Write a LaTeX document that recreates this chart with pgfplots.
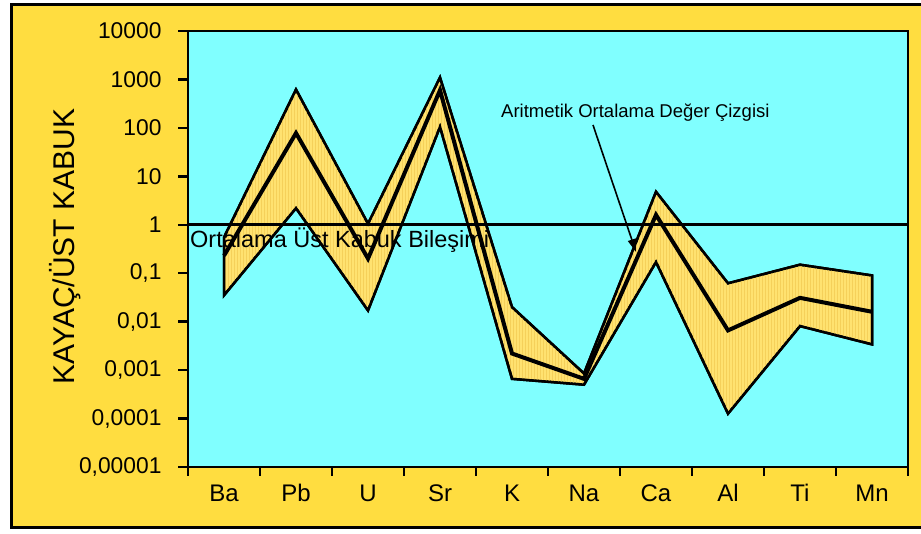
\documentclass[border=0pt]{standalone}
\usepackage{fontspec}
\setmainfont{Liberation Sans}
\usepackage{pgfplots}
\pgfplotsset{compat=1.18}
\usetikzlibrary{patterns,arrows.meta}

\definecolor{outeryel}{RGB}{255,221,64}
\definecolor{cyanbg}{RGB}{128,255,255}
\definecolor{bandyel}{RGB}{255,226,112}
\definecolor{bandstripe}{RGB}{245,208,90}

\begin{document}
\begin{tikzpicture}[x=1pt,y=1pt]
\useasboundingbox (0,0) rectangle (921,534);
\fill[white] (0,0) rectangle (921,534);
\draw[line width=3pt, fill=outeryel] (11.5,6) rectangle (935,529.5);
\begin{axis}[
  at={(188pt,67pt)}, anchor=south west,
  width=720pt, height=436pt, scale only axis,
  xmin=-0.5, xmax=9.5, ymode=log, ymin=1e-5, ymax=1e4,
  axis background/.style={fill=cyanbg},
  axis line style={line width=2.5pt},
  tick align=outside,
  xtick pos=bottom, ytick pos=left,
  xtick={0,...,9}, xticklabels={Ba,Pb,U,Sr,K,Na,Ca,Al,Ti,Mn},
  major x tick style={draw=none},
  minor xtick={-0.5,0.5,...,9.5},
  minor tick length=9pt,
  major tick length=10pt,
  yminorticks=false,
  ytick={1e-5,1e-4,1e-3,1e-2,1e-1,1,1e1,1e2,1e3,1e4},
  yticklabels={{0,00001},{0,0001},{0,001},{0,01},{0,1},1,10,100,1000,10000},
  tick style={line width=2.5pt, black},
  yticklabel style={font=\fontsize{22.8}{26}\selectfont, xshift=-13pt},
  xticklabel style={font=\fontsize{24}{26}\selectfont, yshift=-4pt},
]
\addplot[draw=black, line width=2.5pt, line join=miter, fill=bandyel,
  postaction={pattern=vertical lines, pattern color=bandstripe}]
  coordinates {(0,0.55) (1,620) (2,1.05) (3,1100) (4,0.02) (5,0.00085) (6,4.8) (7,0.062) (8,0.15) (9,0.09)
               (9,0.0034) (8,0.0081) (7,0.000126) (6,0.17) (5,0.0005) (4,0.00066) (3,105) (2,0.017) (1,2.2) (0,0.035)} -- cycle;
\addplot[black, line width=2.8pt] coordinates {(-0.5,1) (9.5,1)};
\addplot[black, line width=4pt, line join=miter]
  coordinates {(0,0.23) (1,78) (2,0.2) (3,600) (4,0.0022) (5,0.00066) (6,1.6) (7,0.0066) (8,0.031) (9,0.016)};
\end{axis}
\node[rotate=90, font=\fontsize{30}{32}\selectfont] at (65,287.3) {KAYAÇ/ÜST KABUK};
\node[anchor=base west, inner sep=0, font=\fontsize{23.5}{25}\selectfont] at (190,286) {Ortalama Üst Kabuk Bileşimi};
\node[anchor=base west, inner sep=0, font=\fontsize{18.5}{20}\selectfont] at (501,416.7) {Aritmetik Ortalama Değer Çizgisi};
\draw[line width=1.6pt, -{Triangle[length=13pt,width=8pt]}] (593,409) -- (636,282);
\end{tikzpicture}
\end{document}
